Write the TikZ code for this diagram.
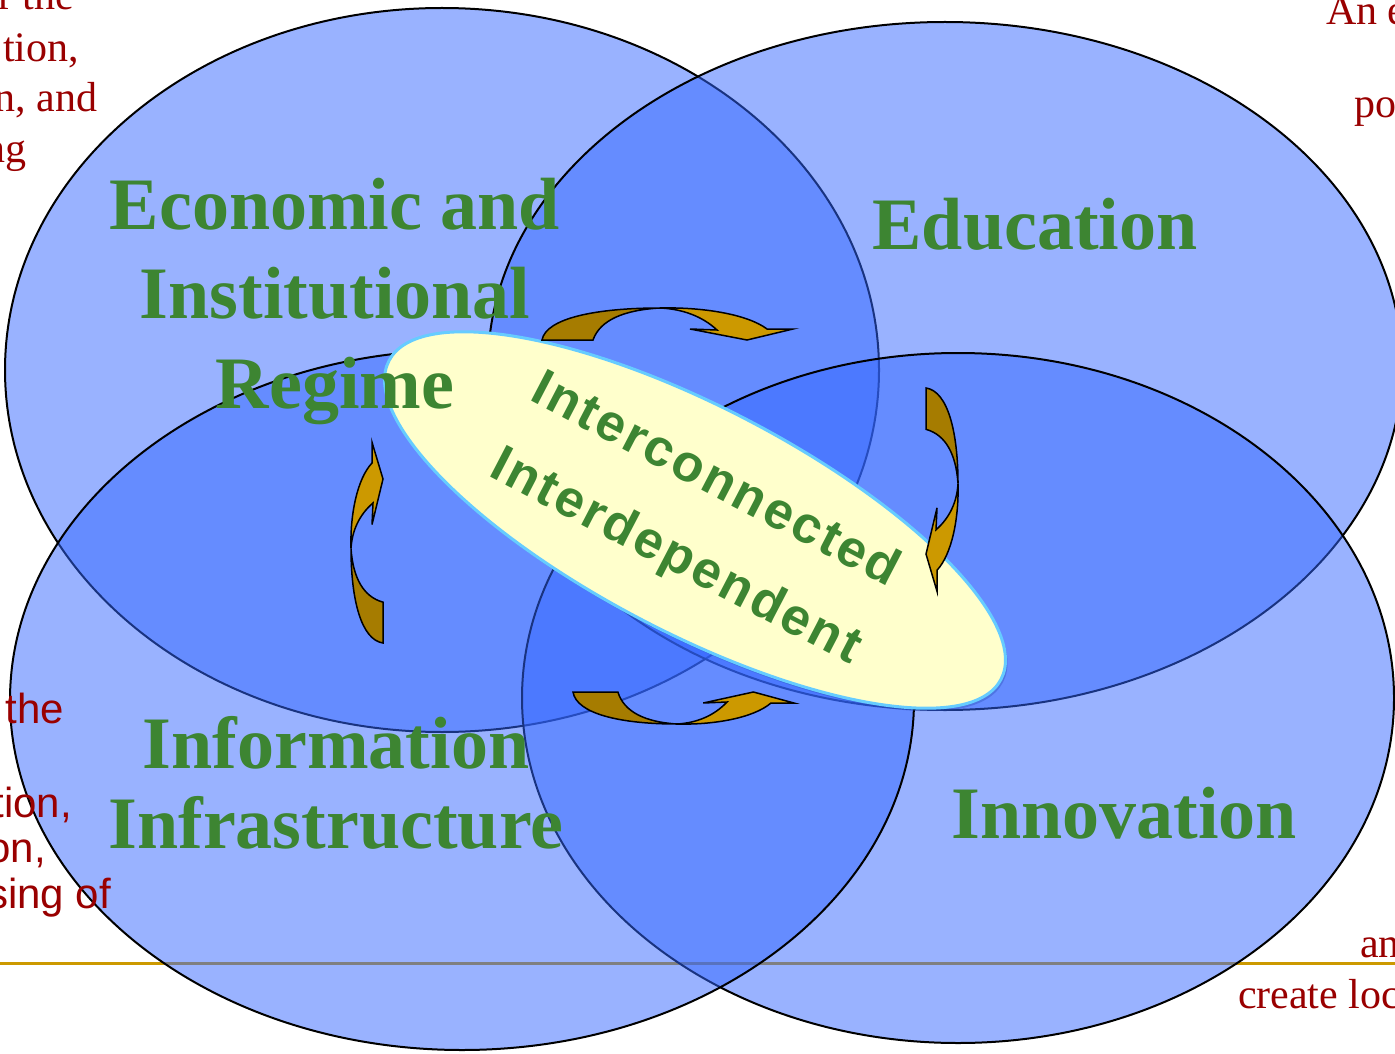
\documentclass[tikz,border=0pt]{standalone}
\usepackage{fontspec}
\setmainfont{Liberation Serif}
\newfontfamily\notesans{Liberation Sans}
\newfontfamily\linkfont{Liberation Sans}[LetterSpace=5]

\definecolor{zoneblue}{RGB}{51,102,255}
\definecolor{gold}{RGB}{204,153,0}
\definecolor{darkgold}{RGB}{166,124,0}
\definecolor{leaf}{RGB}{61,133,50}
\definecolor{notered}{RGB}{153,0,0}
\definecolor{cream}{RGB}{255,255,204}
\definecolor{rim}{RGB}{102,204,255}

% one curved block arrow, tail at (0,0), head to the right
\newcommand\turnarrow[1]{%
\begin{scope}[#1]
\draw[arrowback] (0,0) .. controls (4,-22) and (55,-32) .. (118,-32)
  .. controls (82,-30) and (58,-20) .. (51,0) -- cycle;
\draw[arrowfront] (118,-32) .. controls (160,-33) and (205,-26) .. (225,-11)
  -- (251,-11) -- (205,0) -- (148,-11) -- (175,-10)
  .. controls (160,-24) and (140,-31) .. (118,-32) -- cycle;
\end{scope}}

\begin{document}
\begin{tikzpicture}[x=0.5pt, y=-0.5pt, line width=1pt,
  zone/.style={fill=zoneblue, fill opacity=0.5, draw=black},
  title/.style={text=leaf, font=\bfseries\fontsize{37}{44.5}\selectfont, align=center},
  notetext/.style={text=notered, font=\fontsize{21}{25}\selectfont, inner sep=0pt},
  notesf/.style={text=notered, font=\notesans\fontsize{21}{25}\selectfont, inner sep=0pt},
  arrowback/.style={fill=darkgold, draw=black, line width=0.75pt},
  arrowfront/.style={fill=gold, draw=black, line width=0.75pt}]

\useasboundingbox (0,0) rectangle (1395,1053);
\clip (0,0) rectangle (1395,1053);

\draw[gold, line width=1.5pt] (0,963) -- (1395,963);

% the four regions
\draw[zone] (442,370) ellipse [x radius=437, y radius=362];
\draw[zone] (945,366) ellipse [x radius=457, y radius=344];
\draw[zone] (958,698) ellipse [x radius=436, y radius=345];
\draw[zone] (462,700) ellipse [x radius=452, y radius=350];

% text of the slide behind
\node[notetext, anchor=base east] (n1) at (75,10) {r the};
\node[notetext, anchor=base east] (n2) at (80,62) {tion,};
\node[notetext, anchor=base east] (n3) at (98,112) {n, and};
\node[notetext, anchor=base east] (n4) at (27,163) {ng};
\node[notetext, anchor=base west] (n5) at (1325,25) {An e};
\node[notetext, anchor=base west] (n6) at (1353,118) {po};
\node[notetext, anchor=base west] (n7) at (1359,957) {an};
\node[notetext, anchor=base west] (n8) at (1237,1008) {create loc};
\node[notesf, anchor=base east] (s1) at (65,723) {the};
\node[notesf, anchor=base east] (s2) at (73,817) {tion,};
\node[notesf, anchor=base east] (s3) at (47,862) {on,};
\node[notesf, anchor=base east] (s4) at (112,908) {sing of};

% centre
\fill[zoneblue!70!black, opacity=0.35, rotate around={-27.5:(697,523)}] (697,523) ellipse [x radius=345, y radius=113];
\draw[fill=cream, draw=rim, line width=1.5pt, rotate around={-27.5:(695,520)}] (695,520) ellipse [x radius=345, y radius=113];
\node[text=leaf, font=\linkfont\bfseries\fontsize{26}{43}\selectfont, align=center, rotate=-27.5] (link) at (695,520) {Interconnected\\Interdependent};

\turnarrow{shift={(542,340)}}
\turnarrow{shift={(926,388)}, rotate=-90, xscale=0.81}
\turnarrow{shift={(573,692)}, xscale=0.88, yscale=-1}
\turnarrow{shift={(383,643)}, rotate=90, xscale=0.8}

\node[title, anchor=base] (econ) at (335,408) {Economic and\\Institutional\\Regime};
\node[title, anchor=base] (edu) at (1035,250) {Education};
\node[title, anchor=base, font=\bfseries\fontsize{37}{40}\selectfont] (info) at (336,848) {Information\\Infrastructure};
\node[title, anchor=base] (innov) at (1124,838) {Innovation};

\end{tikzpicture}
\end{document}
